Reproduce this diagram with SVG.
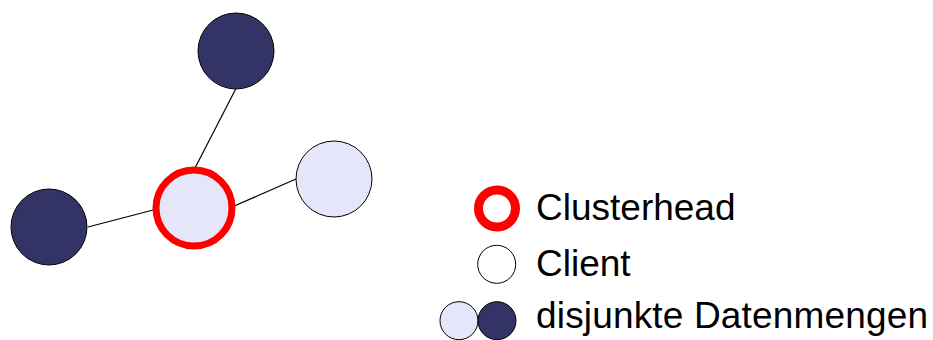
<svg xmlns="http://www.w3.org/2000/svg" width="933" height="340" viewBox="0 0 933 340">
<style>
.dark{fill:#333366;stroke:#000;stroke-width:1}
.light{fill:#e6e6fa;stroke:#000;stroke-width:1}
.client{fill:#fff;stroke:#000;stroke-width:1}
.head{fill:#e6e6fa;stroke:#ff0000;stroke-width:7}
.headlegend{fill:#fff;stroke:#ff0000;stroke-width:9}
.edge{stroke:#000;stroke-width:1.2;fill:none}
text{font-family:"Liberation Sans",Arial,sans-serif;font-size:37px;fill:#000}
</style>
<rect width="933" height="340" fill="#fff"/>
<g id="connectors">
<line class="edge" x1="235.7" y1="89" x2="194" y2="170"/>
<line class="edge" x1="296" y1="179" x2="232" y2="207"/>
<line class="edge" x1="88" y1="227" x2="157" y2="209"/>
</g>
<g id="node-top"><circle class="dark" cx="236" cy="51" r="38"/></g>
<g id="node-right"><circle class="light" cx="334" cy="179" r="38"/></g>
<g id="node-left"><circle class="dark" cx="49" cy="227" r="38"/></g>
<g id="node-clusterhead"><circle class="head" cx="194" cy="208" r="38"/></g>
<g id="legend-clusterhead">
<circle class="headlegend" cx="497" cy="208.5" r="18.5"/>
<text x="536" y="220">Clusterhead</text>
</g>
<g id="legend-client">
<circle class="client" cx="496.7" cy="264.3" r="19"/>
<text x="536" y="275.5">Client</text>
</g>
<g id="legend-disjunct">
<circle class="light" cx="459" cy="320.7" r="19"/>
<circle class="dark" cx="497" cy="320.7" r="19"/>
<text x="536" y="328" textLength="392" lengthAdjust="spacing">disjunkte Datenmengen</text>
</g>
</svg>
